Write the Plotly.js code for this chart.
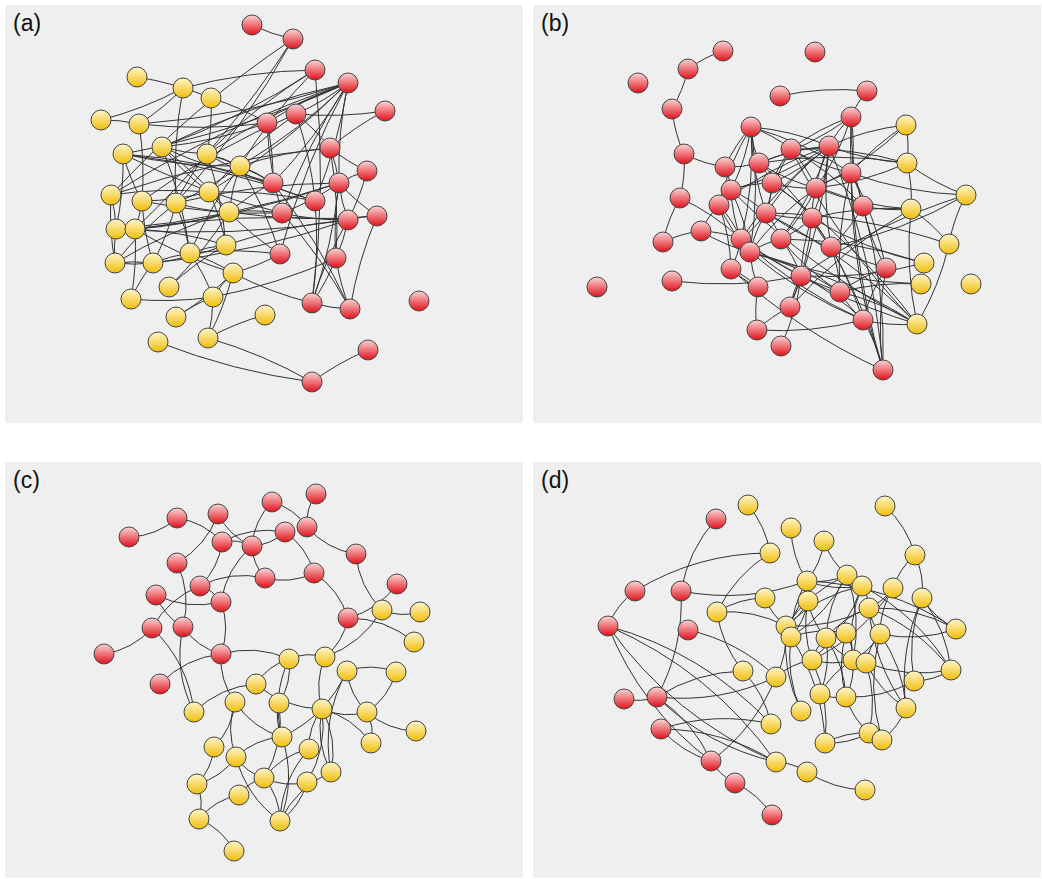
<!DOCTYPE html>
<html>
<head>
<meta charset="utf-8">
<script src="https://cdn.plot.ly/plotly-3.0.1.min.js"></script>
<style>
  html, body { margin: 0; padding: 0; background: #ffffff; }
  #graph { width: 1042px; height: 879px; }
</style>
</head>
<body>
<div id="graph"></div>
<script>
// ---- Network (a): node coordinates and links ----
const aRedX = [252,293,315,348,385,296,267,330,367,273,339,315,377,282,348,280,336,312,350,419,368,312];
const aRedY = [25,39,70,83,111,114,123,148,171,183,183,201,216,213,220,254,258,303,309,301,350,382];
const aYelX = [137,183,211,101,139,162,123,207,240,111,142,176,209,229,116,135,226,190,115,153,233,169,213,131,176,265,158,208];
const aYelY = [77,88,98,120,124,147,154,154,166,195,201,203,192,212,229,229,245,253,263,263,273,287,297,299,317,315,342,338];
const aEdges = [
  'r0-r1','r1-y15','r1-y9','r1-y11',
  'r2-y1','r2-y5','r2-y7','r2-r17','r2-y8',
  'r3-r5','r3-r6','r3-y4','r3-y5','r3-y6','r3-y7','r3-y8','r3-y9','r3-r9','r3-r10','r3-r11','r3-r13','r3-y12','r3-r15',
  'r4-r5','r4-r7',
  'r5-r7','r5-y12','r5-r11','r5-y10',
  'r6-r9','r6-r13','r6-y4','r6-y2','r6-y5',
  'r7-r8','r7-r10','r7-y8','r7-r16',
  'r8-r10','r8-r14',
  'r9-y8','r9-y5','r9-y6','r9-r18','r9-y13',
  'r10-r13','r10-r16','r10-r17','r10-y11','r10-y15','r10-r14',
  'r11-r17','r11-y12','r11-y7',
  'r12-r18','r12-r10','r12-r14',
  'r13-r18','r13-y13','r13-y10','r13-r14',
  'r14-r16','r14-r17','r14-y14','r14-y16','r14-y19','r14-y15',
  'r15-y20','r15-y17','r15-y13','r15-y8',
  'r16-r17','r16-r18','r16-y22',
  'r17-r18','r17-y20',
  'r20-r21','r21-y26','r21-y27',
  'y0-y2','y3-y1','y3-y4','y4-y1','y4-y10','y1-y11','y2-y7',
  'y5-y12','y5-y13','y5-y7','y5-y17',
  'y6-y10','y6-y14','y6-y8','y6-r11','y6-r13',
  'y7-y8','y7-y11','y7-y16',
  'y8-y13','y8-y11','y8-y17',
  'y9-y14','y9-y18','y9-y12',
  'y10-y19','y10-y15','y10-y12',
  'y11-y17','y11-y18','y11-y19','y11-y13',
  'y12-y16','y12-y13',
  'y13-y15','y13-y18',
  'y14-y15','y14-y18',
  'y15-y23','y15-y20','y15-y16',
  'y16-y17','y16-y19','y16-y21',
  'y17-y22','y17-y19','y17-y20',
  'y18-y19','y18-y19',
  'y19-y23','y20-y24','y20-y22','y20-y27',
  'y21-y13',
  'y22-y23','y22-y24','y22-y27',
  'y25-y27',
  'y7-r9','y13-r12','y9-r7','y14-r10'
];

// ---- Network (b) ----
const bRedX = [723,688,638,815,780,867,672,851,751,791,829,684,725,759,851,772,816,731,680,719,766,863,812,701,741,781,831,663,750,731,886,801,672,597,758,840,790,863,757,781,883];
const bRedY = [51,69,83,52,96,91,109,117,127,149,146,154,167,163,173,183,188,190,198,205,213,206,218,231,239,239,247,242,252,269,268,276,281,287,287,292,307,320,330,346,370];
const bYelX = [906,907,966,911,949,924,921,971,917];
const bYelY = [125,163,195,209,244,263,284,284,324];
const bEdges = [
  'r0-r1','r1-r6','r6-r11','r11-r18','r18-r27','r27-r23','r11-r12','r4-r5','r5-r7','r18-r24','r32-r31','r38-r34','r38-r37','r38-r36','r39-r31','r34-r29',
  'r40-r37','r40-r30','r40-r21','r40-r14','r40-r10','r40-r29','r40-r22','r40-r7',
  'r37-y8','r37-r30','r37-r22','r37-r24',
  'y8-r28','y8-r24','y8-r15','y8-r17','y8-y4','y8-y3','y8-r35','y8-r9','y8-r20',
  'y0-y1','y0-r10','y0-r16','y0-r14',
  'y1-r10','y1-r9','y1-y3','y1-y2','y1-r16','y1-r13',
  'y2-r26','y2-r31','y2-r14','y2-y4',
  'y3-r21','y3-r22','y3-y4','y3-r36','y3-r16',
  'y4-r20',
  'y5-r22','y5-r25','y5-r31',
  'y6-r35','y6-r28',
  'r7-r10','r7-r16','r7-r9','r7-r14','r7-r21','r7-r13',
  'r10-r8','r10-r9','r10-r13','r10-r15','r10-r16','r10-r17','r10-r19','r10-r22','r10-r24','r10-r25','r10-r26','r10-r36','r10-r20',
  'r8-r9','r8-r13','r8-r17','r8-r19','r8-r24','r8-r12','r8-r14','r8-r20','r8-r28',
  'r9-r14','r9-r16','r9-r20','r9-r21','r9-r15',
  'r12-r17','r12-r13',
  'r13-r15','r13-r16','r13-r22',
  'r14-r16','r14-r21','r14-r35','r14-r30',
  'r15-r16','r15-r20','r15-r17','r15-r22',
  'r16-r22','r16-r25','r16-r28','r16-r21',
  'r17-r19','r17-r20','r17-r24','r17-r28',
  'r19-r23','r19-r24','r19-r28','r19-r29',
  'r20-r22','r20-r25','r20-r28','r20-r24','r20-r30',
  'r21-r26','r21-r30',
  'r22-r25','r22-r26','r22-r36','r22-r31',
  'r23-r24','r23-r28',
  'r24-r28','r24-r35','r24-r29',
  'r25-r28','r25-r31','r25-r35',
  'r26-r35',
  'r28-r34','r28-r35','r28-r37',
  'r29-r34',
  'r31-r36','r31-r37',
  'r35-r37','r35-r30'
];

// ---- Network (c) ----
const cRedX = [129,177,218,272,316,222,252,285,307,177,265,314,356,200,156,221,397,152,183,348,104,221,160];
const cRedY = [537,518,514,502,494,542,546,532,527,563,578,573,554,586,595,602,584,628,627,618,654,654,684];
const cYelX = [382,420,414,289,325,347,396,256,194,235,279,322,367,416,282,371,214,236,309,331,264,307,197,239,199,280,234];
const cYelY = [610,612,642,659,657,671,672,684,712,702,703,709,712,731,737,743,747,757,749,772,778,782,784,795,819,821,851];
const cEdges = [
  'r0-r1','r1-r5','r2-r6','r2-r9','r3-r6','r3-r8','r4-r8','r5-r7','r6-r7','r5-r6','r6-r10','r5-r13','r6-r15',
  'r13-r10','r10-r11','r7-r11','r8-r12','r11-r19','r12-y0','r16-r19','r14-r15','r13-r15','r14-r18','r9-r18',
  'r13-r17','r17-r20','r18-r21','r15-r21','r21-r22','r17-y8','r18-y8','r21-y3','r21-y9',
  'y3-y4','y4-r19','r19-y2','y0-y1','y0-y4','y4-y11','y8-y7','y7-y11','y3-y10','y3-y14','y7-y3',
  'y9-y14','y9-y16','y9-y17','y5-y6','y5-y12','y6-y12','y12-y13','y12-y15','y11-y12','y11-y15',
  'y5-y19','y5-y14','y10-y14','y10-y20','y14-y17','y14-y25','y17-y20','y17-y22','y17-y25','y16-y22',
  'y20-y21','y20-y18','y20-y23','y20-y25','y11-y18','y11-y19','y11-y19','y11-y21','y18-y25','y21-y25',
  'y19-y25','y22-y24','y23-y24','y24-y26'
];

// ---- Network (d) ----
const dRedX = [716,635,681,608,688,624,657,661,711,735,772];
const dRedY = [519,591,591,626,630,699,697,729,761,783,815];
const dYelX = [748,885,791,824,770,915,807,847,862,893,765,808,922,869,717,786,791,826,846,880,956,812,853,866,743,776,951,914,820,846,801,906,771,869,825,882,776,807,865];
const dYelY = [505,506,528,541,553,555,581,575,586,588,598,601,598,608,612,626,637,638,633,634,629,660,660,663,671,677,670,681,694,697,711,708,724,733,743,740,762,772,790];
const dEdges = [
  'r0-r2','r2-r6','r1-r3','r1-y4','r2-y6','r3-y32','r3-y36','r3-y36','r3-r8','r4-y25','r5-r6','r6-y24','r6-y25','r6-r8','r6-y36',
  'r7-y32','r7-r8','r7-y36','r8-r9','r9-r10','r8-y25','y36-y37','y37-y38',
  'y0-y4','y4-y14','y14-y10','y14-y24','y14-y15','y10-y15','y24-y32','y2-y6','y3-y6','y3-y7','y1-y5','y5-y9','y5-y12',
  'y12-y20','y12-y26','y12-y27','y26-y27',
  'y6-y7','y6-y11','y6-y8','y6-y20','y6-y16','y6-y15','y7-y15','y7-y16','y7-y17','y7-y22','y7-y8','y8-y13','y8-y15',
  'y8-y21','y8-y22','y9-y13','y9-y19','y11-y15','y11-y17','y11-y16','y11-y21','y13-y15','y13-y19','y13-y20','y13-y17',
  'y13-y26','y15-y16','y15-y25','y15-y30','y16-y18','y16-y30','y17-y18','y17-y21','y17-y29','y17-y22','y18-y22','y18-y29',
  'y19-y22','y19-y23','y19-y31','y19-y35','y20-y19','y21-y22','y21-y34','y22-y23','y22-y29','y23-y26','y23-y33','y23-y31',
  'y25-y21','y26-y8','y27-y29','y28-y29','y28-y22','y29-y33','y31-y35','y33-y34','y33-y34','y12-y31','y31-y13','y34-y16',
  'y9-y21','y28-y17'
];

// ---- Drawing ----
const W = 1042, H = 879;
const panels = [
  { label: '(a)', box: [5, 523, 5, 423],   red: [aRedX, aRedY], yel: [aYelX, aYelY], edges: aEdges, bend: 0.06 },
  { label: '(b)', box: [533, 1041, 5, 423], red: [bRedX, bRedY], yel: [bYelX, bYelY], edges: bEdges, bend: 0.08 },
  { label: '(c)', box: [5, 523, 462, 878], red: [cRedX, cRedY], yel: [cYelX, cYelY], edges: cEdges, bend: 0.18 },
  { label: '(d)', box: [533, 1041, 462, 878], red: [dRedX, dRedY], yel: [dYelX, dYelY], edges: dEdges, bend: 0.14 }
];

const redMarker = { size: 20, color: '#fcd6d6', gradient: { type: 'vertical', color: '#e1101a' }, line: { color: '#444444', width: 1 } };
const yelMarker = { size: 20, color: '#fff6cc', gradient: { type: 'vertical', color: '#f2bd08' }, line: { color: '#444444', width: 1 } };

const traces = [];
const shapes = [];
const annotations = [];
const layout = {
  width: W, height: H,
  margin: { l: 0, r: 0, t: 0, b: 0 },
  paper_bgcolor: '#ffffff',
  plot_bgcolor: '#efefef',
  showlegend: false,
  shapes: shapes,
  annotations: annotations
};

function nodeXY(p, key) {
  const set = key[0] === 'r' ? p.red : p.yel;
  const i = parseInt(key.slice(1), 10);
  return [set[0][i], set[1][i]];
}

panels.forEach((p, k) => {
  const s = k === 0 ? '' : String(k + 1);
  const [x0, x1, y0, y1] = p.box;
  layout['xaxis' + s] = { domain: [x0 / W, x1 / W], range: [x0, x1], visible: false, fixedrange: true, anchor: 'y' + s };
  layout['yaxis' + s] = { domain: [1 - y1 / H, 1 - y0 / H], range: [y1, y0], visible: false, fixedrange: true, anchor: 'x' + s };

  // links as gently bowed quadratic curves
  p.edges.forEach((e, idx) => {
    const [a, b] = e.split('-');
    const [ax, ay] = nodeXY(p, a);
    const [bx, by] = nodeXY(p, b);
    const sign = idx % 2 === 0 ? 1 : -1;
    const cx = (ax + bx) / 2 - (by - ay) * p.bend * sign;
    const cy = (ay + by) / 2 + (bx - ax) * p.bend * sign;
    shapes.push({
      type: 'path', xref: 'x' + s, yref: 'y' + s, layer: 'below',
      path: `M${ax},${ay} Q${cx},${cy} ${bx},${by}`,
      line: { color: '#333333', width: 1 }
    });
  });

  traces.push({ type: 'scatter', mode: 'markers', x: p.red[0], y: p.red[1], xaxis: 'x' + s, yaxis: 'y' + s,
                marker: redMarker, hoverinfo: 'skip', cliponaxis: false });
  traces.push({ type: 'scatter', mode: 'markers', x: p.yel[0], y: p.yel[1], xaxis: 'x' + s, yaxis: 'y' + s,
                marker: yelMarker, hoverinfo: 'skip', cliponaxis: false });

  annotations.push({
    text: p.label, xref: 'paper', yref: 'paper', showarrow: false,
    x: (x0 + 6) / W, y: 1 - (y0 + 3) / H, xanchor: 'left', yanchor: 'top',
    font: { family: 'Liberation Sans, Arial, sans-serif', size: 23, color: '#111111' }
  });
});

Plotly.newPlot('graph', traces, layout, { staticPlot: true });
</script>
</body>
</html>
